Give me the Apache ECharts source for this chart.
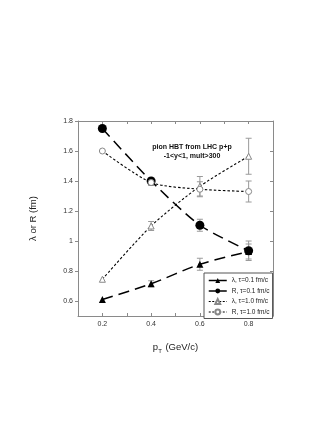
<!DOCTYPE html>
<html>
<head>
<meta charset="utf-8">
<script src="https://cdn.jsdelivr.net/npm/echarts@6/dist/echarts.min.js"></script>
<style>
  html, body { margin: 0; padding: 0; background: #fff; }
  #chart { width: 332px; height: 430px; }
</style>
</head>
<body>
<div id="chart"></div>
<script>
// transverse momentum bins
var pT = [0.2, 0.4, 0.6, 0.8];

// tau = 0.1 fm/c
var lambdaTau01 = [0.61, 0.715, 0.845, 0.93];
var lambdaTau01Err = [0, 0.02, 0.04, 0.05];
var rTau01 = [1.75, 1.40, 1.105, 0.935];
var rTau01Err = [0, 0.02, 0.04, 0.065];

// tau = 1.0 fm/c
var lambdaTau10 = [0.745, 1.10, 1.365, 1.565];
var lambdaTau10Err = [0, 0.03, 0.065, 0.12];
var rTau10 = [1.60, 1.39, 1.345, 1.33];
var rTau10Err = [0, 0.02, 0.05, 0.07];

var xTickLabels = [0.2, 0.4, 0.6, 0.8];
var xMinorTicks = [0.1, 0.2, 0.3, 0.4, 0.5, 0.6, 0.7, 0.8, 0.9];
var yTickLabels = [0.6, 0.8, 1, 1.2, 1.4, 1.6, 1.8];

var seriesNames = ['λ, τ=0.1 fm/c', 'R, τ=0.1 fm/c', 'λ, τ=1.0 fm/c', 'R, τ=1.0 fm/c'];

var font = 'Liberation Sans, Arial, sans-serif';
var frameColor = '#8a8a8a';

function pairs(ys) {
    return pT.map(function (x, i) { return [x, ys[i]]; });
}
function errData(ys, errs) {
    var out = [];
    pT.forEach(function (x, i) {
        if (errs[i] > 0) out.push([x, ys[i], errs[i]]);
    });
    return out;
}
function errorBars(ys, errs) {
    return {
        type: 'custom',
        silent: true,
        z: 1,
        data: errData(ys, errs),
        renderItem: function (params, api) {
            var x = api.value(0), y = api.value(1), e = api.value(2);
            var hi = api.coord([x, y + e]);
            var lo = api.coord([x, y - e]);
            var w = 3;
            var st = { stroke: '#9a9a9a', lineWidth: 1 };
            return {
                type: 'group',
                children: [
                    { type: 'line', shape: { x1: hi[0], y1: hi[1], x2: lo[0], y2: lo[1] }, style: st },
                    { type: 'line', shape: { x1: hi[0] - w, y1: hi[1], x2: hi[0] + w, y2: hi[1] }, style: st },
                    { type: 'line', shape: { x1: lo[0] - w, y1: lo[1], x2: lo[0] + w, y2: lo[1] }, style: st }
                ]
            };
        }
    };
}

var chart = echarts.init(document.getElementById('chart'));

var option = {
    backgroundColor: '#fff',
    animation: false,
    textStyle: { fontFamily: font },
    title: {
        text: 'pion HBT from LHC p+p\n-1<y<1, mult>300',
        left: 187,
        top: 138,
        textAlign: 'center',
        textStyle: { fontSize: 7, fontWeight: 'bold', color: '#111', lineHeight: 8.5, fontFamily: font }
    },
    grid: { left: 78, top: 121, right: 59, bottom: 114 },
    legend: {
        orient: 'vertical',
        left: 204,
        top: 273,
        padding: [4, 3, 3, 4],
        itemWidth: 18,
        itemHeight: 6,
        itemGap: 3.5,
        borderColor: '#555',
        borderWidth: 1,
        backgroundColor: '#fff',
        textStyle: { fontSize: 6.5, color: '#222', fontFamily: font },
        data: [
            { name: seriesNames[0], lineStyle: { type: 'solid', width: 1.5 } },
            { name: seriesNames[1], lineStyle: { type: 'solid', width: 1.5 } },
            { name: seriesNames[2], lineStyle: { type: [2, 1.5], width: 1 } },
            { name: seriesNames[3], lineStyle: { type: [2, 1.5], width: 1 } }
        ]
    },
    xAxis: [{
        type: 'value',
        min: 0.1,
        max: 0.9,
        name: '{a|p}{b|T}{a| (GeV/c)}',
        nameLocation: 'middle',
        nameGap: 24,
        nameTextStyle: {
            rich: {
                a: { fontSize: 9.5, color: '#222', fontFamily: font, lineHeight: 14 },
                b: { fontSize: 6, color: '#222', fontFamily: font, verticalAlign: 'bottom', lineHeight: 10, padding: [8, 1, 0, 0] }
            }
        },
        axisLine: { onZero: false, lineStyle: { color: frameColor, width: 1 } },
        axisTick: { inside: true, length: 3, customValues: xMinorTicks, lineStyle: { color: frameColor } },
        axisLabel: { customValues: xTickLabels, fontSize: 7, color: '#333', margin: 5, fontFamily: font },
        splitLine: { show: false }
    }, {
        type: 'value',
        position: 'top',
        min: 0.1,
        max: 0.9,
        axisLine: { onZero: false, lineStyle: { color: frameColor, width: 1 } },
        axisTick: { inside: true, length: 3, customValues: xMinorTicks, lineStyle: { color: frameColor } },
        axisLabel: { show: false },
        splitLine: { show: false }
    }],
    yAxis: [{
        type: 'value',
        min: 0.5,
        max: 1.8,
        name: 'λ or R (fm)',
        nameLocation: 'middle',
        nameGap: 40,
        nameTextStyle: { fontSize: 9.5, color: '#222', fontFamily: font },
        axisLine: { onZero: false, lineStyle: { color: frameColor, width: 1 } },
        axisTick: { inside: false, length: 3, customValues: yTickLabels, lineStyle: { color: frameColor } },
        axisLabel: { customValues: yTickLabels, fontSize: 7, color: '#333', margin: 5, fontFamily: font },
        splitLine: { show: false }
    }, {
        type: 'value',
        position: 'right',
        min: 0.5,
        max: 1.8,
        axisLine: { onZero: false, lineStyle: { color: frameColor, width: 1 } },
        axisTick: { inside: true, length: 3, customValues: yTickLabels, lineStyle: { color: frameColor } },
        axisLabel: { show: false },
        splitLine: { show: false }
    }],
    series: [
        errorBars(lambdaTau01, lambdaTau01Err),
        errorBars(rTau01, rTau01Err),
        errorBars(lambdaTau10, lambdaTau10Err),
        errorBars(rTau10, rTau10Err),
        {
            name: seriesNames[0],
            type: 'line',
            smooth: 0.25,
            z: 3,
            data: pairs(lambdaTau01),
            symbol: 'triangle',
            symbolSize: 7,
            itemStyle: { color: '#000', borderWidth: 0 },
            lineStyle: { color: '#000', width: 1.5, type: [11, 6] }
        },
        {
            name: seriesNames[1],
            type: 'line',
            smooth: 0.25,
            z: 3,
            data: pairs(rTau01),
            symbol: 'circle',
            symbolSize: 9,
            itemStyle: { color: '#000', borderWidth: 0 },
            lineStyle: { color: '#000', width: 1.5, type: [11, 6] }
        },
        {
            name: seriesNames[2],
            type: 'line',
            smooth: 0.25,
            z: 3,
            data: pairs(lambdaTau10),
            symbol: 'triangle',
            symbolSize: 6,
            itemStyle: { color: '#fff', borderColor: '#888', borderWidth: 1 },
            lineStyle: { color: '#000', width: 1.1, type: [2.5, 2] }
        },
        {
            name: seriesNames[3],
            type: 'line',
            smooth: 0.25,
            z: 3,
            data: pairs(rTau10),
            symbol: 'circle',
            symbolSize: 6,
            itemStyle: { color: '#fff', borderColor: '#888', borderWidth: 1 },
            lineStyle: { color: '#000', width: 1.1, type: [2.5, 2] }
        }
    ]
};

chart.setOption(option);
window.addEventListener('resize', function () {
    chart.resize();
});
</script>
</body>
</html>
